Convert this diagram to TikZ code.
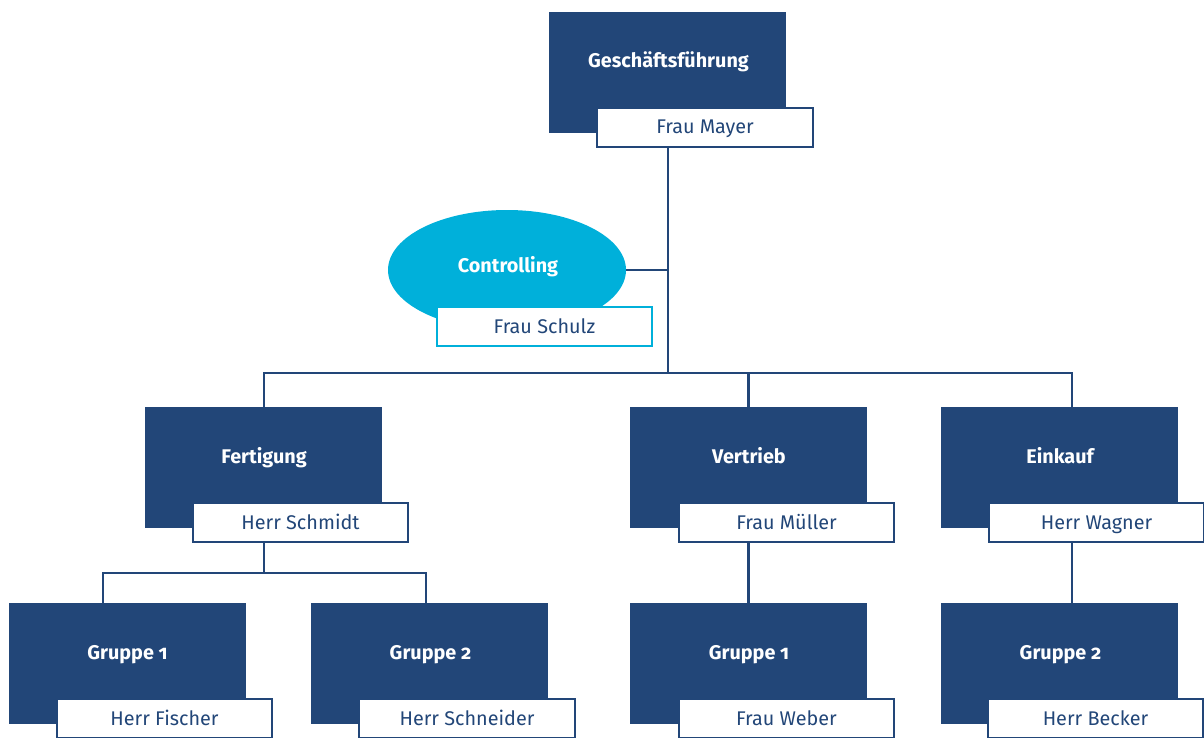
\documentclass[tikz,border=0pt]{standalone}
\usepackage{fontspec}
\setmainfont{Fira Sans}[Numbers=OldStyle]
\usetikzlibrary{shapes.geometric}
\definecolor{dkblue}{RGB}{34,70,120}
\definecolor{cyanc}{RGB}{0,176,218}
\tikzset{
  unitbox/.style={fill=dkblue, minimum width=237pt, minimum height=121pt, inner sep=0pt, draw=none},
  unittext/.style={text=white, font=\fontsize{19.8}{22}\selectfont\bfseries, inner sep=0pt, anchor=base},
  namebox/.style={draw=dkblue, line width=2pt, fill=white, minimum width=215.5pt, minimum height=39pt, inner sep=0pt,
    text height=16pt, text depth=3pt, text=dkblue, font=\fontsize{19.8}{22}\selectfont},
  staffbox/.style={namebox, draw=cyanc},
  conn/.style={draw=dkblue, line width=2.2pt},
}
\begin{document}
\begin{tikzpicture}[x=1pt,y=-1pt]
\useasboundingbox (0,0) rectangle (1204,738);
% top
\node[unitbox] (gf) at (667.5,72.5) {};
\node[unittext] (gft) at (668.5,68) {Geschäftsführung};
\node[namebox] (mayer) at (705,127.5) {Frau Mayer};
% controlling
\node[ellipse, fill=cyanc, minimum width=238pt, minimum height=120pt, inner sep=0pt] (ctrl) at (507,270) {};
\node[unittext] (ctrlt) at (508,272) {Controlling};
\node[staffbox] (schulz) at (544.5,326.5) {Frau Schulz};
% level 2
\node[unitbox] (ferti) at (263.5,467.5) {};
\node[unittext] (fertit) at (264,463) {Fertigung};
\node[namebox] (schmidt) at (300.5,522.5) {Herr Schmidt};
\node[unitbox] (vertrieb) at (748.5,467.5) {};
\node[unittext] (vertriebt) at (749,463) {Vertrieb};
\node[namebox] (mueller) at (786.5,522.5) {Frau Müller};
\node[unitbox] (einkauf) at (1059.5,467.5) {};
\node[unittext] (einkauft) at (1060,463) {Einkauf};
\node[namebox] (wagner) at (1096.5,522.5) {Herr Wagner};
% level 3
\node[unitbox] (g1a) at (127.5,663.5) {};
\node[unittext] (g1at) at (127.5,659) {Gruppe 1};
\node[namebox] (fischer) at (164.5,718.5) {Herr Fischer};
\node[unitbox] (g2a) at (429.5,663.5) {};
\node[unittext] (g2at) at (430.5,659) {Gruppe 2};
\node[namebox] (schneider) at (467,718.5) {Herr Schneider};
\node[unitbox] (g1b) at (748.5,663.5) {};
\node[unittext] (g1bt) at (749,659) {Gruppe 1};
\node[namebox] (weber) at (786.5,718.5) {Frau Weber};
\node[unitbox] (g2b) at (1059.5,663.5) {};
\node[unittext] (g2bt) at (1060.5,659) {Gruppe 2};
\node[namebox] (becker) at (1095.5,718.5) {Herr Becker};
% connector coordinates
\coordinate (b0) at (668,373);
\coordinate (bL) at (264,373);
\coordinate (bR) at (1072,373);
\coordinate (s0) at (264,573);
\coordinate (s1) at (103,573);
\coordinate (s2) at (426,573);
% connectors
\draw[conn] (b0 |- mayer.south) -- (b0);
\draw[conn] (ctrl.east) -- (ctrl.east -| b0);
\draw[conn] (bL |- ferti.north) -- (bL) -- (bR) -- (bR |- einkauf.north);
\draw[conn] (vertrieb.north) -- (vertrieb.north |- b0);
\draw[conn] (s0 |- schmidt.south) -- (s0);
\draw[conn] (s1 |- g1a.north) -- (s1) -- (s2) -- (s2 |- g2a.north);
\draw[conn] (vertrieb.center |- mueller.south) -- (vertrieb.center |- g1b.north);
\draw[conn] (bR |- wagner.south) -- (bR |- g2b.north);
\end{tikzpicture}
\end{document}
